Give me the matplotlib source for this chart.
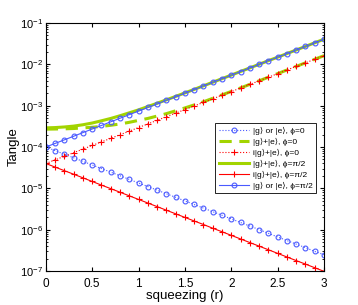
import matplotlib
matplotlib.use("Agg")
import matplotlib.pyplot as plt
import numpy as np

plt.rcParams['font.family'] = ['Liberation Sans', 'DejaVu Sans']
plt.rcParams['mathtext.fontset'] = 'custom'
plt.rcParams['mathtext.rm'] = 'Liberation Sans'
plt.rcParams['mathtext.it'] = 'Liberation Sans:italic'

r = [0.0, 0.1, 0.2, 0.3, 0.4, 0.5, 0.6, 0.7, 0.8, 0.9, 1.0,
     1.1, 1.2, 1.3, 1.4, 1.5, 1.6, 1.7, 1.8, 1.9, 2.0,
     2.1, 2.2, 2.3, 2.4, 2.5, 2.6, 2.7, 2.8, 2.9, 3.0]

# |g> or |e>, phi=0  (x1e-6)
ge_phi0 = [100, 81.9, 67.0, 54.9, 44.9, 36.8, 30.1, 24.7, 20.2, 16.5, 13.5,
           11.1, 9.07, 7.43, 6.08, 4.98, 4.08, 3.34, 2.73, 2.24, 1.83,
           1.50, 1.23, 1.01, 0.82, 0.67, 0.55, 0.45, 0.37, 0.30, 0.25]
# |g>+|e>, phi=0  (x1e-4)
gpe_phi0 = [2.7, 2.72, 2.75, 2.8, 2.9, 3.0, 3.15, 3.35, 3.6, 3.95, 4.4,
            4.9, 5.6, 6.4, 7.5, 8.8, 10.4, 12.4, 15.0, 18.2, 22.0,
            26.8, 32.6, 39.8, 48.6, 59.4, 72.5, 88.6, 108, 132, 161]
# i|g>+|e>, phi=0  (x1e-5)
igpe_phi0 = [4.0, 4.89, 5.97, 7.29, 8.90, 10.9, 13.3, 16.2, 19.8, 24.2, 29.6,
             36.1, 44.1, 53.9, 65.8, 80.3, 98.1, 120, 146, 179, 218,
             267, 326, 398, 486, 594, 725, 886, 1082, 1321, 1614]
# |g>+|e>, phi=pi/2  (x1e-4)
gpe_phi2 = [2.9, 2.95, 3.05, 3.2, 3.45, 3.8, 4.3, 4.9, 5.7, 6.7, 7.9,
            9.5, 11.4, 13.8, 16.7, 20.3, 24.7, 30.1, 36.7, 44.8, 54.7,
            66.8, 81.6, 99.6, 122, 148, 181, 221, 270, 330, 403]
# i|g>+|e>, phi=pi/2  (x1e-7)
igpe_phi2 = [400, 327, 268, 220, 180, 147, 120, 98.6, 80.8, 66.1, 54.1,
             44.3, 36.3, 29.7, 24.3, 19.9, 16.3, 13.4, 10.9, 8.96, 7.33,
             6.00, 4.91, 4.02, 3.29, 2.69, 2.20, 1.80, 1.48, 1.21, 0.99]
# |g> or |e>, phi=pi/2  (x1e-4)
ge_phi2 = [1.0, 1.22, 1.49, 1.82, 2.23, 2.72, 3.32, 4.06, 4.95, 6.05, 7.39,
           9.03, 11.0, 13.5, 16.4, 20.1, 24.5, 30.0, 36.6, 44.7, 54.6,
           66.7, 81.5, 99.5, 122, 148, 181, 221, 270, 330, 403]

blue = '#4a5aff'
green = '#a2d400'

fig = plt.figure(figsize=(3.58, 3.05), dpi=100)
ax = fig.add_axes([0.128, 0.111, 0.777, 0.814])

ax.plot(r, np.array(ge_phi0) * 1e-6, ':', color=blue, marker='o', ms=3.5,
        mfc='none', mew=0.8, lw=0.8, label='|g⟩ or |e⟩, ϕ=0')
ax.plot(r, np.array(gpe_phi0) * 1e-4, '--', color=green, lw=2.2,
        dashes=(4, 2.5), label='|g⟩+|e⟩, ϕ=0')
ax.plot(r, np.array(igpe_phi0) * 1e-5, ':', color='r', marker='+', ms=4,
        mew=0.8, lw=0.8, label='i|g⟩+|e⟩, ϕ=0')
ax.plot(r, np.array(gpe_phi2) * 1e-4, '-', color=green, lw=2.2,
        label='|g⟩+|e⟩, ϕ=π/2')
ax.plot(r, np.array(igpe_phi2) * 1e-7, '-', color='r', marker='+', ms=4,
        mew=0.8, lw=0.8, label='i|g⟩+|e⟩, ϕ=π/2')
ax.plot(r, np.array(ge_phi2) * 1e-4, '-', color=blue, marker='o', ms=3.5,
        mfc='none', mew=0.8, lw=0.8, label='|g⟩ or |e⟩, ϕ=π/2')

ax.set_yscale('log')
ax.set_xlim(0, 3)
ax.set_ylim(1e-7, 1e-1)
ax.set_xticks([0, 0.5, 1, 1.5, 2, 2.5, 3])
ax.set_xticklabels(['0', '0.5', '1', '1.5', '2', '2.5', '3'])
ax.tick_params(which='both', direction='in', top=True, right=True)
ax.tick_params(which='major', length=3)
ax.tick_params(which='minor', length=1.5)
ax.tick_params(axis='x', pad=5, labelsize=8.5)
ax.tick_params(axis='y', pad=2, labelsize=8)
ax.set_xlabel('squeezing (r)', fontsize=9.5, labelpad=0)
ax.set_ylabel('Tangle', fontsize=9.5)
ax.yaxis.set_label_coords(-0.095, 0.5)

leg = ax.legend(loc='lower right', bbox_to_anchor=(0.971, 0.315), fontsize=6,
                handlelength=3.6, handletextpad=0.5, borderpad=0.4,
                labelspacing=0.35, fancybox=False, framealpha=1,
                edgecolor='k', borderaxespad=0)
leg.get_frame().set_linewidth(0.6)

fig.savefig('out.png', dpi=100)
